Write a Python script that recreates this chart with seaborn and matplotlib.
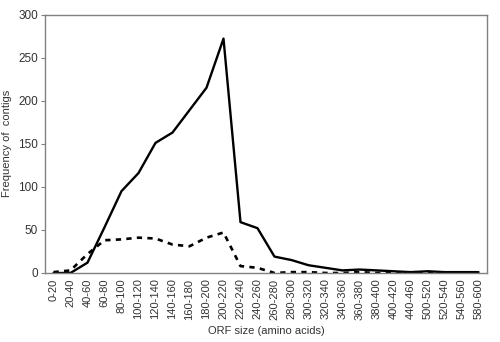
import matplotlib
matplotlib.use("Agg")
import matplotlib.pyplot as plt
import seaborn as sns
import pandas as pd

categories = ["0-20", "20-40", "40-60", "60-80", "80-100", "100-120", "120-140",
              "140-160", "160-180", "180-200", "200-220", "220-240", "240-260",
              "260-280", "280-300", "300-320", "320-340", "340-360", "360-380",
              "380-400", "400-420", "440-460", "500-520", "520-540", "540-560",
              "580-600"]
solid_values = [0, 0, 12, 53, 95, 116, 151, 163, 189, 215, 272, 59, 52, 19, 15,
                9, 6, 3, 4, 3, 2, 1, 2, 1, 1, 1]
dashed_values = [1, 3, 22, 38, 39, 41, 40, 33, 31, 41, 47, 8, 6, 0, 1, 1, 0, 0,
                 1, 0, 0, 0, 1, 0, 0, 0]

sns.set_style("white")
plt.rcParams["font.family"] = ["Liberation Sans", "DejaVu Sans"]

df = pd.DataFrame({"cat": categories, "pos": range(len(categories)),
                   "solid": solid_values, "dashed": dashed_values})

fig = plt.figure(figsize=(5, 3.42), dpi=100)
ax = fig.add_axes([0.09, 0.2018, 0.884, 0.7558])

sns.lineplot(data=df, x="pos", y="solid", ax=ax, color="black", lw=1.7)
sns.lineplot(data=df, x="pos", y="dashed", ax=ax, color="black", lw=1.9,
             linestyle=(0, (2, 2)))

ax.set_xlim(-0.5, len(categories) - 0.5)
ax.set_ylim(0, 300)
ax.set_yticks(range(0, 301, 50))
ax.set_xticks(range(len(categories)))
ax.set_xticklabels(categories, rotation=90, fontsize=8, color="#333333")
ax.set_xticks([i + 0.5 for i in range(-1, len(categories))], minor=True)
ax.tick_params(axis="x", which="major", length=0, pad=4)
ax.tick_params(axis="x", which="minor", length=3, color="#808080", direction="out")
ax.tick_params(axis="y", length=3, color="#808080", labelsize=8.5,
               labelcolor="#333333", direction="out", left=True, pad=2)
for s in ax.spines.values():
    s.set_color("#808080")
    s.set_linewidth(1)
ax.set_xlabel("ORF size (amino acids)", fontsize=8, color="#333333", labelpad=5)
ax.set_ylabel("Frequency of  contigs", fontsize=8, color="#333333")
ax.yaxis.set_label_coords(-0.075, 0.5)

fig.savefig("out.png", dpi=100)
